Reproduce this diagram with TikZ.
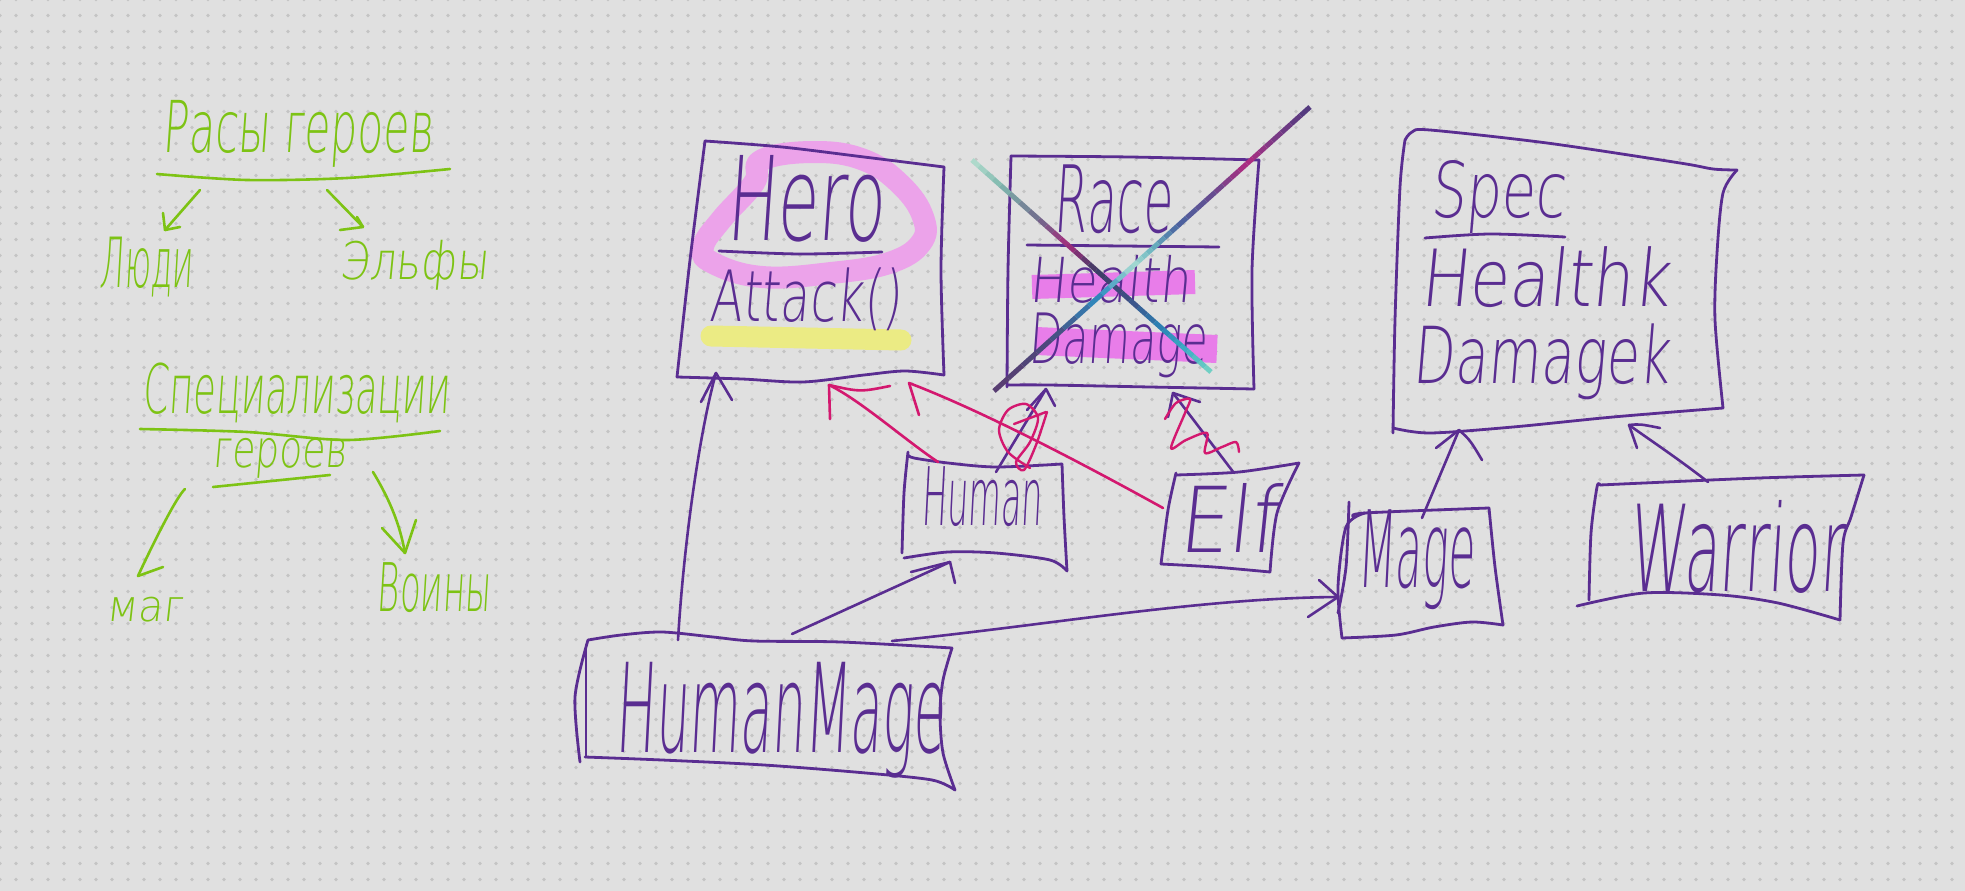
\documentclass[tikz,border=0pt]{standalone}
\usepackage{fontspec}
\usepackage{graphicx}
\usetikzlibrary{calc}
\newfontfamily\hand[FakeSlant=0.12]{DejaVu Sans ExtraLight}
\definecolor{bg}{HTML}{E0E0E0}
\definecolor{dotc}{HTML}{C4C4C4}
\definecolor{pur}{HTML}{5A2D91}
\definecolor{mag}{HTML}{D3186F}
\definecolor{grn}{HTML}{7DC314}
\definecolor{hlpink}{HTML}{ECA3EA}
\definecolor{hlmag}{HTML}{E87DE9}
\definecolor{hlyel}{HTML}{EBEB84}
\definecolor{a0}{HTML}{B5DECF}\definecolor{a1}{HTML}{7FB8AE}\definecolor{a2}{HTML}{706A8C}
\definecolor{a3}{HTML}{A42C7C}\definecolor{a4}{HTML}{3C3C64}\definecolor{a5}{HTML}{3F4F86}
\definecolor{a6}{HTML}{2A86B8}\definecolor{a7}{HTML}{3FAFC4}\definecolor{a8}{HTML}{78D4C4}
\definecolor{b0}{HTML}{4E3A7E}\definecolor{b1}{HTML}{7E3A86}\definecolor{b2}{HTML}{B02A80}
\definecolor{b3}{HTML}{6A4A8E}\definecolor{b4}{HTML}{4A64A0}\definecolor{b5}{HTML}{6AB4C0}
\definecolor{b6}{HTML}{A8DCD2}\definecolor{b7}{HTML}{2E8EC2}\definecolor{b8}{HTML}{4A4A7C}
\definecolor{b9}{HTML}{5A3C70}
\newcommand{\hw}[3]{\resizebox*{#1pt}{#2pt}{\hand #3}}
\begin{document}
\begin{tikzpicture}[x=1pt,y=-1pt,line cap=round,line join=round,
  ln/.style={draw=pur,line width=2.8pt},
  conn/.style={draw=pur,line width=2.6pt},
  pconn/.style={draw=mag,line width=2.6pt},
  gconn/.style={draw=grn,line width=2.6pt},
  lbl/.style={inner sep=0pt,outer sep=0pt,text=pur},
  glbl/.style={inner sep=0pt,outer sep=0pt,text=grn}]
% background and dot grid
\fill[bg] (0,0) rectangle (1965,891);
\useasboundingbox (0,0) rectangle (1965,891);
\foreach \r in {0,...,55}{
  \draw[dotc,line width=3.8pt,line cap=round,dash pattern=on 0pt off 16pt] (0,{16*\r-0.5}) -- (1965,{16*\r-0.5});
}
% ---------- green notes ----------
\node[glbl] (races) at (298,133.5) {\hw{270}{67}{Расы героев}};
\draw[gconn] plot[smooth] coordinates {(157,174) (247,180) (347,178) (450,169)};
\node[glbl] (people) at (146.5,267) {\hw{93}{60}{Люди}};
\node[glbl] (elves) at (414,265) {\hw{148}{50}{Эльфы}};
\coordinate (gA1) at (200,190); \coordinate (gA2) at (165,230);
\draw[gconn] (gA1) -- (gA2); \draw[gconn] (gA2) -- ++(-2,-17); \draw[gconn] (gA2) -- ++(15,-3);
\coordinate (gB1) at (327,190); \coordinate (gB2) at (363,227);
\draw[gconn] (gB1) -- (gB2); \draw[gconn] (gB2) -- ++(-6,-10); \draw[gconn] (gB2) -- ++(-23,3);

\node[glbl] (specs) at (296.5,393) {\hw{307}{60}{Специализации}};
\draw[gconn] plot[smooth] coordinates {(140,429) (247,432) (347,440) (440,431)};
\node[glbl] (heroes) at (280,458) {\hw{134}{40}{героев}};
\draw[gconn] (213,487) -- (330,475);
\node[glbl] (mag) at (145,609.5) {\hw{76}{25}{маг}};
\node[glbl] (warriors) at (433.5,588) {\hw{113}{50}{Воины}};
\coordinate (gC1) at (185,489); \coordinate (gC2) at (138,576);
\draw[gconn] (gC1) .. controls (176,497) and (150,550) .. (gC2); \draw[gconn] (gC2) -- ++(25,-9);
\coordinate (gD1) at (373,472); \coordinate (gD2) at (405,553);
\draw[gconn] (gD1) .. controls (390,500) and (400,525) .. (gD2);
\draw[gconn] (gD2) -- ++(-23,-25); \draw[gconn] (gD2) -- ++(11,-33);
% ---------- highlights ----------
\draw[hlpink,line width=22pt] plot[smooth cycle,tension=0.7] coordinates {(762,160) (815,152) (864,160) (901,185) (923,217) (921,243) (889,263) (831,273) (762,277) (713,263) (703,247) (721,220) (754,183)};
\draw[hlyel,line width=21pt] (711,336) -- (901,340);
\draw[hlmag,line width=24pt,line cap=butt] (1032,287) -- (1195,282);
\draw[hlmag,line width=28pt,line cap=butt] (1036,341) -- (1217,349);
% ---------- boxes ----------
% Hero
\draw[ln] plot[smooth] coordinates {(705,141) (782,147) (864,157) (944,167)};
\draw[ln] plot[smooth] coordinates {(944,167) (941,270) (944,375)};
\draw[ln] plot[smooth] coordinates {(944,375) (905,371) (864,375) (803,382) (742,379) (677,377)};
\draw[ln] plot[smooth] coordinates {(677,377) (690,260) (705,141)};
\draw[ln] plot[smooth] coordinates {(719,251) (800,254) (882,252)};
\node[lbl] (hero) at (805.5,198.5) {\hw{157}{87}{Hero}};
\node[lbl] (attack) at (805.5,299.5) {\hw{191}{63}{Attack()}};
% Race
\draw[ln] plot[smooth] coordinates {(1011,156) (1130,157) (1259,160)};
\draw[ln] plot[smooth] coordinates {(1259,160) (1252,270) (1254,389)};
\draw[ln] plot[smooth] coordinates {(1254,389) (1150,387) (1048,385) (1007,385)};
\draw[ln] plot[smooth] coordinates {(1007,387) (1008,270) (1011,156)};
\draw[ln] (1027,245) -- (1219,247);
\node[lbl] (race) at (1113,199.5) {\hw{118}{69}{Race}};
\node[lbl] (rhealth) at (1110,279) {\hw{160}{48}{Health}};
\node[lbl] (rdamage) at (1118,345.5) {\hw{178}{65}{Damage}};
% Spec
\draw[ln] plot[smooth] coordinates {(1405,140) (1412,132) (1430,130) (1547,143) (1680,163) (1713,169) (1737,170)};
\draw[ln] plot[smooth] coordinates {(1737,170) (1723,193) (1717,253) (1715,320) (1723,408)};
\draw[ln] plot[smooth] coordinates {(1723,408) (1613,417) (1513,427) (1430,433) (1393,428)};
\draw[ln] plot[smooth] coordinates {(1393,433) (1395,320) (1400,187) (1405,140)};
\draw[ln] plot[smooth] coordinates {(1425,238) (1490,234) (1565,237)};
\node[lbl] (spec) at (1497.5,196.5) {\hw{135}{73}{Spec}};
\node[lbl] (shealth) at (1545,277.5) {\hw{250}{61}{Healthk}};
\node[lbl] (sdamage) at (1541.5,362) {\hw{257}{76}{Damagek}};
% Human
\draw[ln] plot[smooth] coordinates {(908,455) (914,458) (948,463) (996,467) (1062,464)};
\draw[ln] plot[smooth] coordinates {(1062,464) (1064,517) (1067,571)};
\draw[ln] plot[smooth] coordinates {(1067,571) (1050,560) (996,553) (948,552) (904,558)};
\draw[ln] plot[smooth] coordinates {(902,553) (904,493) (908,452)};
\node[lbl] (human) at (981.5,497) {\hw{121}{60}{Human}};
% Elf
\draw[ln] plot[smooth] coordinates {(1176,475) (1239,472) (1299,463)};
\draw[ln] plot[smooth] coordinates {(1299,463) (1277,513) (1270,572)};
\draw[ln] plot[smooth] coordinates {(1270,572) (1214,567) (1161,564)};
\draw[ln] plot[smooth] coordinates {(1161,564) (1168,510) (1176,473)};
\node[lbl] (elf) at (1227.5,517.5) {\hw{99}{69}{Elf}};
% HumanMage
\draw[ln] plot[smooth] coordinates {(588,640) (621,635) (662,632) (713,637) (754,641) (841,642) (952,648)};
\draw[ln] plot[smooth] coordinates {(952,648) (943,680) (940,713) (943,753) (955,790)};
\draw[ln] plot[smooth] coordinates {(955,790) (932,780) (866,773) (764,765) (662,760) (585,757)};
\draw[ln] plot[smooth] coordinates {(580,762) (575,697) (588,640)};
\draw[ln] (586,645) -- (586,757);
\node[lbl] (humanmage) at (780.5,720) {\hw{329}{116}{HumanMage}};
% Mage
\draw[ln] plot[smooth] coordinates {(1354,517) (1365,513) (1489,508)};
\draw[ln] plot[smooth] coordinates {(1489,508) (1495,567) (1503,625)};
\draw[ln] plot[smooth] coordinates {(1503,625) (1472,622) (1434,627) (1396,635) (1342,638)};
\draw[ln] plot[smooth] coordinates {(1342,638) (1338,587) (1346,527) (1365,513)};
\draw[ln] plot[smooth] coordinates {(1349,502) (1346,567) (1338,613)};
\node[lbl] (mage) at (1415.5,560) {\hw{117}{100}{Mage}};
% Warrior
\draw[ln] plot[smooth] coordinates {(1600,485) (1644,483) (1759,478) (1864,475)};
\draw[ln] plot[smooth] coordinates {(1864,475) (1851,517) (1843,543) (1840,620)};
\draw[ln] plot[smooth] coordinates {(1840,620) (1778,603) (1721,595) (1644,593) (1577,606)};
\draw[ln] plot[smooth] coordinates {(1589,600) (1591,533) (1597,487) (1600,485)};
\node[lbl] (warrior) at (1736,546.5) {\hw{214}{93}{Warrior}};
% ---------- connectors ----------
\coordinate (hmA) at (678,640); \coordinate (heroA) at (716,373);
\draw[conn] (hmA) .. controls (684,540) and (700,430) .. (heroA);
\draw[conn] (heroA) -- ++(-15,29); \draw[conn] (heroA) -- ++(16,27);
\coordinate (hmB) at (792,634); \coordinate (humB) at (950,562);
\draw[conn] (hmB) -- (humB);
\draw[conn] (humB) -- ++(-39,10); \draw[conn] (humB) -- ++(5,21);
\coordinate (hmC) at (892,641); \coordinate (mageA) at (1338,597);
\draw[conn] (hmC) .. controls (1050,625) and (1200,598) .. (mageA);
\draw[conn] (mageA) -- ++(-19,-17); \draw[conn] (mageA) -- ++(-30,20);
\coordinate (humA) at (996,472); \coordinate (raceA) at (1046,389);
\draw[conn] (humA) -- (raceA);
\draw[conn] (raceA) -- ++(-19,21); \draw[conn] (raceA) -- ++(9,17);
\coordinate (elfA) at (1234,473); \coordinate (raceB) at (1173,393);
\draw[conn] (elfA) -- (raceB);
\draw[conn] (raceB) -- ++(-5,24); \draw[conn] (raceB) -- ++(27,9);
\coordinate (mageB) at (1422,518); \coordinate (specA) at (1459,430);
\draw[conn] (mageB) -- (specA);
\draw[conn] (specA) -- ++(-23,18); \draw[conn] (specA) .. controls (1470,440) .. (1482,460);
\coordinate (warA) at (1708,482); \coordinate (specB) at (1629,425);
\draw[conn] (warA) .. controls (1680,460) and (1650,440) .. (specB);
\draw[conn] (specB) -- ++(8,23); \draw[conn] (specB) .. controls (1640,424) .. (1660,428);
% pink connectors
\coordinate (humC) at (938,462); \coordinate (heroB) at (829,385);
\draw[pconn] (humC) .. controls (905,440) and (860,400) .. (heroB);
\draw[pconn] (heroB) -- ++(1,34); \draw[pconn] (heroB) .. controls (860,392) .. (890,386);
\coordinate (elfB) at (1163,508); \coordinate (heroC) at (909,383);
\draw[pconn] (elfB) .. controls (1080,462) and (980,410) .. (heroC);
\draw[pconn] (heroC) -- ++(10,32);
\draw[pconn,line width=2.4pt] plot[smooth] coordinates {(1030,468) (1008,452) (999,430) (1008,410) (1026,404) (1038,418) (1030,442) (1016,462) (1024,470) (1036,445) (1047,412)};
\draw[pconn,line width=2.4pt] (1014,424) -- (1046,412);
\draw[pconn,line width=2.4pt] plot[smooth,tension=0.5] coordinates {(1165,419) (1176,403) (1190,399) (1185,413) (1171,448) (1186,440) (1207,433) (1205,453) (1222,447) (1236,442) (1239,452)};
% ---------- crossing lines over Race ----------
\coordinate (xa1) at (972,160); \coordinate (xa2) at (1211,372);
\foreach \ta/\tb/\ca/\cb in {0/0.12/a0/a1,0.12/0.28/a1/a2,0.28/0.4/a2/a3,0.4/0.52/a3/a4,0.52/0.66/a4/a5,0.66/0.8/a5/a6,0.8/0.9/a6/a7,0.9/1/a7/a8}{
  \foreach \k in {0,1,2,3}{
    \pgfmathsetmacro\sa{\ta+(\tb-\ta)*\k/4}
    \pgfmathsetmacro\sb{\ta+(\tb-\ta)*(\k+1)/4}
    \pgfmathsetmacro\mx{87.5-25*\k}
    \draw[line width=5pt,line cap=butt,color=\ca!\mx!\cb] ($(xa1)!\sa!(xa2)$) -- ($(xa1)!\sb!(xa2)$);
  }
}
\coordinate (xb1) at (1310,107); \coordinate (xb2) at (994,391);
\foreach \ta/\tb/\ca/\cb in {0/0.12/b0/b1,0.12/0.2/b1/b2,0.2/0.3/b2/b3,0.3/0.42/b3/b4,0.42/0.5/b4/b5,0.5/0.56/b5/b6,0.56/0.66/b6/b7,0.66/0.82/b7/b8,0.82/1/b8/b9}{
  \foreach \k in {0,1,2,3}{
    \pgfmathsetmacro\sa{\ta+(\tb-\ta)*\k/4}
    \pgfmathsetmacro\sb{\ta+(\tb-\ta)*(\k+1)/4}
    \pgfmathsetmacro\mx{87.5-25*\k}
    \draw[line width=5pt,line cap=butt,color=\ca!\mx!\cb] ($(xb1)!\sa!(xb2)$) -- ($(xb1)!\sb!(xb2)$);
  }
}
\end{tikzpicture}
\end{document}
